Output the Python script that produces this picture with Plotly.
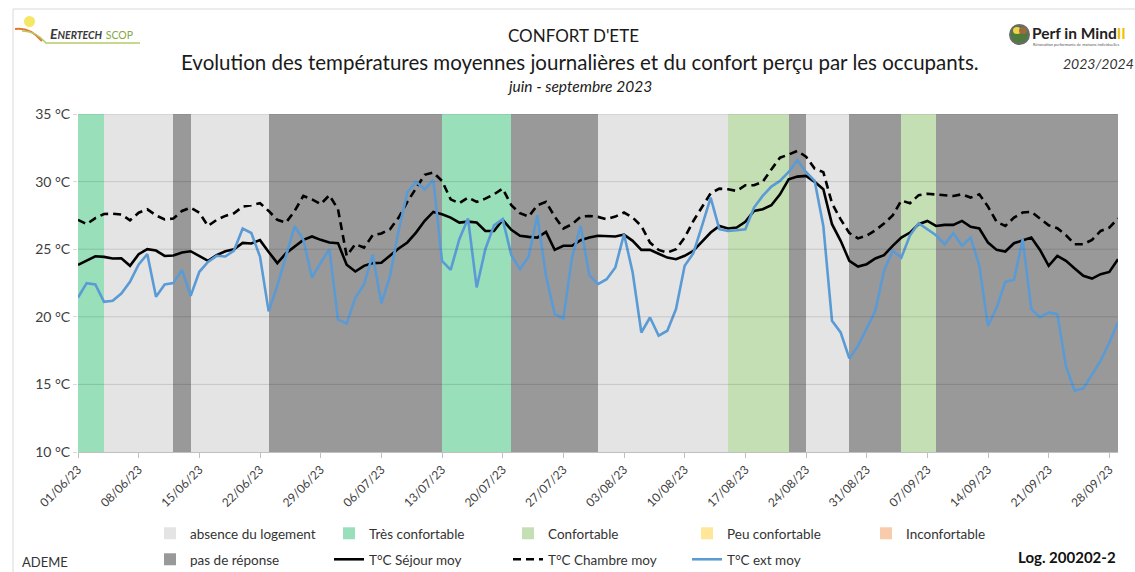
import pandas as pd
import plotly.graph_objects as go

# ---------------- data ----------------
start_date = "2023-06-01"
n_days = 121

t_sejour = [
    23.84, 24.14, 24.48, 24.43, 24.31, 24.33, 23.77, 24.63, 25.0, 24.9,
    24.5, 24.53, 24.75, 24.85, 24.5, 24.14, 24.56, 24.85, 25.0, 25.47,
    25.42, 25.67, 24.8, 23.97, 24.7, 25.2, 25.69, 25.94, 25.69, 25.5,
    25.45, 23.85, 23.35, 23.77, 23.97, 24.0, 24.56, 25.05, 25.5, 26.23,
    27.1, 27.76, 27.59, 27.34, 26.97, 27.04, 26.97, 26.35, 26.35, 27.17,
    26.43, 25.99, 25.91, 25.86, 26.28, 24.95, 25.25, 25.25, 25.67, 25.86,
    25.99, 25.94, 25.94, 26.08, 25.62, 24.95, 24.95, 24.66, 24.38, 24.26,
    24.51, 24.88, 25.54, 26.23, 26.72, 26.53, 26.6, 27.02, 27.83, 27.96,
    28.25, 29.06, 30.17, 30.37, 30.42, 29.98, 29.43, 26.85, 25.62, 24.14,
    23.72, 23.89, 24.31, 24.56, 25.25, 25.86, 26.23, 26.85, 27.09, 26.72,
    26.8, 26.8, 27.09, 26.65, 26.53, 25.49, 24.95, 24.83, 25.44, 25.67,
    25.86, 24.95, 23.77, 24.51, 24.14, 23.57, 23.03, 22.83, 23.15, 23.32,
    24.26,
]

t_chambre = [
    27.17, 26.85, 27.3, 27.6, 27.63, 27.56, 27.14, 27.7, 27.95, 27.5,
    27.2, 27.27, 27.83, 28.08, 27.7, 26.72, 27.17, 27.46, 27.66, 28.15,
    28.25, 28.4, 27.83, 27.17, 26.97, 27.83, 28.94, 28.69, 28.33, 28.99,
    27.96, 24.51, 25.37, 25.12, 26.03, 26.16, 26.48, 27.34, 28.5, 29.48,
    30.5, 30.67, 30.05, 28.69, 28.4, 28.82, 28.5, 28.74, 29.06, 29.48,
    28.25, 27.66, 27.41, 28.25, 28.5, 27.41, 26.53, 26.85, 27.41, 27.46,
    27.39, 27.22, 27.41, 27.71, 27.34, 26.72, 25.49, 24.95, 24.75, 25.0,
    25.86, 27.09, 28.08, 29.14, 29.48, 29.43, 29.31, 29.73, 29.73, 29.98,
    30.9, 31.77, 32.0, 32.27, 31.85, 30.96, 30.7, 28.4, 27.2, 26.2,
    25.8, 26.0, 26.4, 26.9, 27.5, 28.6, 28.4, 29.0, 29.1, 29.06,
    28.99, 28.94, 29.06, 28.82, 29.06, 28.15, 27.02, 26.72, 27.34, 27.71,
    27.76, 27.27, 26.77, 26.55, 26.03, 25.37, 25.37, 25.69, 26.35, 26.6,
    27.27,
]

t_ext = [
    21.43, 22.49, 22.39, 21.11, 21.18, 21.72, 22.59, 23.87, 24.63, 21.48,
    22.39, 22.49, 23.47, 21.55, 23.33, 24.06, 24.51, 24.46, 24.9, 26.53,
    26.2, 24.45, 20.4, 22.3, 24.5, 26.7, 25.7, 22.9, 24.0, 25.0,
    19.8, 19.5, 21.4, 22.4, 24.6, 21.0, 23.0, 26.4, 29.2, 30.0,
    29.43, 30.12, 24.14, 23.47, 25.74, 27.27, 22.17, 25.0, 26.77, 27.22,
    24.56, 23.52, 24.46, 27.51, 23.03, 20.2, 19.88, 24.38, 26.72, 23.08,
    22.41, 22.78, 23.65, 26.11, 23.28, 18.84, 19.95, 18.6, 18.97, 20.57,
    23.77, 24.7, 26.72, 28.82, 26.48, 26.35, 26.4, 26.48, 28.08, 28.94,
    29.63, 30.05, 30.71, 31.58, 30.71, 30.05, 26.72, 19.7, 18.84, 16.92,
    17.86, 19.14, 20.44, 23.4, 24.88, 24.38, 26.03, 26.92, 26.48, 26.03,
    25.37, 26.18, 25.25, 25.86, 23.77, 19.33, 20.69, 22.59, 22.73, 25.74,
    20.57, 19.95, 20.32, 20.2, 16.33, 14.53, 14.7, 15.69, 16.75, 18.1,
    19.6,
]

# comfort reported by occupants, as runs of consecutive days
band_categories = [
    "Très confortable", "absence du logement", "pas de réponse", "absence du logement",
    "pas de réponse", "Très confortable", "pas de réponse", "absence du logement",
    "Confortable", "pas de réponse", "absence du logement", "pas de réponse",
    "Confortable", "pas de réponse",
]
band_lengths = [3, 8, 2, 9, 20, 8, 10, 15, 7, 2, 5, 6, 4, 21]

legend_row1 = ["absence du logement", "Très confortable", "Confortable",
               "Peu confortable", "Inconfortable"]
legend_row2 = ["pas de réponse"]
category_colors = {
    "absence du logement": "#E4E4E4",
    "Très confortable": "#99DFBA",
    "Confortable": "#C5DFB5",
    "Peu confortable": "#FFE699",
    "Inconfortable": "#F8CBAD",
    "pas de réponse": "#999999",
}

y_ticks = [10, 15, 20, 25, 30, 35]
y_min, y_max = 10, 35

# ---------------- figure ----------------
dates = pd.date_range(start_date, periods=n_days, freq="D")
day_cat = []
for c, n in zip(band_categories, band_lengths):
    day_cat += [c] * n
band_x = dates[:len(day_cat)] + pd.Timedelta(hours=12)
day_ms = 24 * 3600 * 1000

W, H = 1135, 572
L, R, T, B = 78, 17, 114, 120
pw, ph = W - L - R, H - T - B


def px(x):
    return (x - L) / pw


def py(y):
    return (H - B - y) / ph


FONT = "Lato"
fig = go.Figure()

for cat in legend_row1 + legend_row2:
    fig.add_trace(go.Bar(
        x=band_x,
        y=[(y_max - y_min) if c == cat else None for c in day_cat],
        base=y_min,
        width=day_ms,
        marker=dict(color=category_colors[cat], line=dict(width=0)),
        name=cat,
        legend="legend" if cat in legend_row1 else "legend2",
        hoverinfo="skip",
    ))

fig.add_trace(go.Scatter(x=dates, y=t_sejour, mode="lines", name="T°C Séjour moy",
                         line=dict(color="black", width=2.6), legend="legend2"))
fig.add_trace(go.Scatter(x=dates, y=t_chambre, mode="lines", name="T°C Chambre moy",
                         line=dict(color="black", width=2.6, dash="8px,5px"), legend="legend2"))
fig.add_trace(go.Scatter(x=dates, y=t_ext, mode="lines", name="T°C ext moy",
                         line=dict(color="#5B9BD5", width=2.6), legend="legend2"))

shapes = []
for v in y_ticks[1:]:
    shapes.append(dict(type="line", xref="paper", yref="y", x0=0, x1=1, y0=v, y1=v,
                       line=dict(color="rgba(0,0,0,0.13)", width=1), layer="above"))
# page frame
shapes.append(dict(type="line", xref="paper", yref="paper", x0=px(13), x1=px(1135),
                   y0=py(9), y1=py(9), line=dict(color="#D9D9D9", width=1)))
shapes.append(dict(type="line", xref="paper", yref="paper", x0=px(13), x1=px(13),
                   y0=py(9), y1=py(572), line=dict(color="#D9D9D9", width=1)))
# Enertech logo
shapes.append(dict(type="circle", xref="paper", yref="paper", x0=px(24), x1=px(35),
                   y0=py(16), y1=py(27), fillcolor="#F5E663", line=dict(width=0)))
shapes.append(dict(type="path", xref="paper", yref="paper",
                   path=f"M {px(15)},{py(29)} Q {px(30)},{py(27)} {px(42)},{py(41)}",
                   line=dict(color="#E8742A", width=2)))
shapes.append(dict(type="path", xref="paper", yref="paper",
                   path=f"M {px(22)},{py(31)} Q {px(36)},{py(31)} {px(46)},{py(43)} L {px(140)},{py(43)}",
                   line=dict(color="#B5CC6A", width=1.5)))
# Perf in Mind logo
shapes.append(dict(type="circle", xref="paper", yref="paper", x0=px(1010), x1=px(1029),
                   y0=py(25), y1=py(44), fillcolor="#4E7A3C",
                   line=dict(color="#6B6B6B", width=2)))
shapes.append(dict(type="circle", xref="paper", yref="paper", x0=px(1013), x1=px(1021),
                   y0=py(27), y1=py(34), fillcolor="#F2D24A", line=dict(width=0)))
shapes.append(dict(type="circle", xref="paper", yref="paper", x0=px(1019), x1=px(1027),
                   y0=py(27), y1=py(34), fillcolor="#9B6A3E", line=dict(width=0)))

annotations = [
    dict(text="CONFORT D'ETE", x=px(573), y=py(35), font=dict(size=17, color="#1a1a1a")),
    dict(text="Evolution des températures moyennes journalières et du confort perçu par les occupants.",
         x=px(580), y=py(62), font=dict(size=20.5, color="#1a1a1a")),
    dict(text="<i>juin - septembre 2023</i>", x=px(579), y=py(86), font=dict(size=15.5, color="#1a1a1a")),
    dict(text="<b><i>E<span style='font-size:10.5px'>NERTECH</span></i></b> "
              "<span style='color:#86A845;font-size:10.5px'>SCOP</span>",
         x=px(48), y=py(33), xanchor="left", font=dict(size=14, color="#3a3a3a")),
    dict(text="<b>Perf in Mind</b><b><span style='color:#F2C200'>II</span></b>",
         x=px(1030), y=py(33), xanchor="left", font=dict(size=15.5, color="#222222")),
    dict(text="Rénovation performante de maisons individuelles", x=px(1031), y=py(44),
         xanchor="left", font=dict(size=4, color="#555555")),
    dict(text="<i>2023/2024</i>", x=px(1098), y=py(63), font=dict(size=14, color="#333333")),
    dict(text="ADEME", x=px(20), y=py(562), xanchor="left", font=dict(size=13, color="#333333")),
    dict(text="<b>Log. 200202-2</b>", x=px(1118), y=py(557), xanchor="right",
         font=dict(size=15, color="#111111")),
]
for a in annotations:
    a.update(xref="paper", yref="paper", showarrow=False, yanchor="middle")
    a.setdefault("xanchor", "center")
    a["font"]["family"] = FONT

legend_common = dict(orientation="h", xref="container", yref="container",
                     x=150 / W, xanchor="left", yanchor="top",
                     entrywidth=134, font=dict(size=13.5, color="#333333"), itemwidth=30,
                     traceorder="normal", bgcolor="rgba(0,0,0,0)")

fig.update_layout(
    width=W, height=H,
    margin=dict(l=L, r=R, t=T, b=B, autoexpand=False),
    paper_bgcolor="white", plot_bgcolor="white",
    font=dict(family=FONT, size=12, color="#404040"),
    barmode="overlay", bargap=0,
    showlegend=True,
    legend=dict(legend_common, y=1 - 518 / H),
    legend2=dict(legend_common, y=1 - 544 / H),
    xaxis=dict(type="date", range=[dates[0], dates[-1]], tick0=start_date,
               dtick=7 * day_ms, tickformat="%d/%m/%y", tickangle=-45,
               showgrid=False, showline=True, linecolor="#BFBFBF", linewidth=1,
               ticks="outside", ticklen=5, tickcolor="#BFBFBF",
               tickfont=dict(size=12, color="#404040"), zeroline=False),
    yaxis=dict(range=[y_min, y_max], tickmode="array", tickvals=y_ticks,
               ticktext=[f"{v} °C" for v in y_ticks],
               showgrid=False, zeroline=False, showline=False,
               ticks="outside", ticklen=4, tickcolor="#D9D9D9",
               tickfont=dict(size=14, color="#404040")),
    shapes=shapes,
    annotations=annotations,
)

fig.write_html("out.html", config={"displayModeBar": False},
               post_script="document.body.style.margin='0';document.body.style.overflow='hidden';")
